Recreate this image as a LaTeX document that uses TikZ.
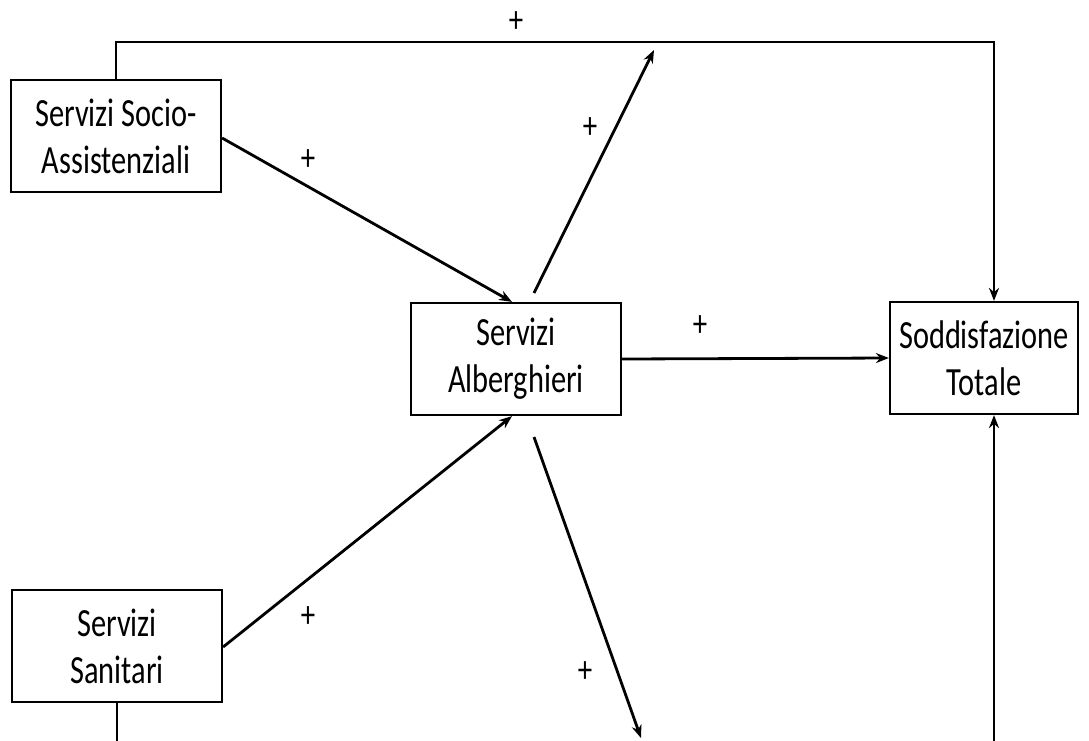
\documentclass[tikz,border=0pt]{standalone}
\usepackage{fontspec}
\setmainfont{Carlito}[FakeStretch=0.76]
\usetikzlibrary{arrows.meta}
\begin{document}
\begin{tikzpicture}[x=1pt,y=-1pt,
  box/.style={draw,line width=2.2pt,minimum width=210pt,minimum height=112pt,align=center,inner sep=0pt,font=\fontsize{40}{47}\selectfont},
  conn/.style={line width=2.8pt},
  arr/.style={conn,-{Stealth[length=13pt,width=10pt]}},
  sign/.style={font=\fontsize{38}{38}\selectfont}]
\useasboundingbox (0,0) rectangle (1089,740);
\clip (0,0) rectangle (1089,740);
\node[box] (socio) at (116,136) {Servizi Socio-\\Assistenziali};
\node[box] (alb) at (516,359) {Servizi\\Alberghieri};
\node[box,minimum width=188pt] (tot) at (984,358) {Soddisfazione\\Totale};
\node[box] (san) at (117,646) {Servizi\\Sanitari};
\coordinate (tr) at (994,42);
\coordinate (upend) at (654,50);
\coordinate (downend) at (641,738);
\coordinate (bl) at (117,742);
\coordinate (br) at (994,742);
\coordinate (upstart) at (534,293);
\coordinate (downstart) at (534,437);
% top feedback
\draw[arr] (socio.north) |- (tr) -- (tr |- tot.north);
% socio -> alb
\draw[arr] (socio.east |- 0,138) -- ([xshift=-4pt]alb.north);
% san -> alb
\draw[arr] (san.east |- 0,647) -- ([xshift=-4pt]alb.south);
% alb -> tot
\draw[arr] (alb.east) -- (tot.west);
% alb up / down
\draw[arr] (upstart) -- (upend);
\draw[arr] (downstart) -- (downend);
% bottom verticals
\draw[conn] (san.south) -- (bl);
\draw[arr] (br) -- (br |- tot.south);
% signs
\node[sign] (p1) at (516,22) {+};
\node[sign] (p2) at (308,160) {+};
\node[sign] (p3) at (590,128) {+};
\node[sign] (p4) at (700,326) {+};
\node[sign] (p5) at (308,617) {+};
\node[sign] (p6) at (585,672) {+};
\end{tikzpicture}
\end{document}
